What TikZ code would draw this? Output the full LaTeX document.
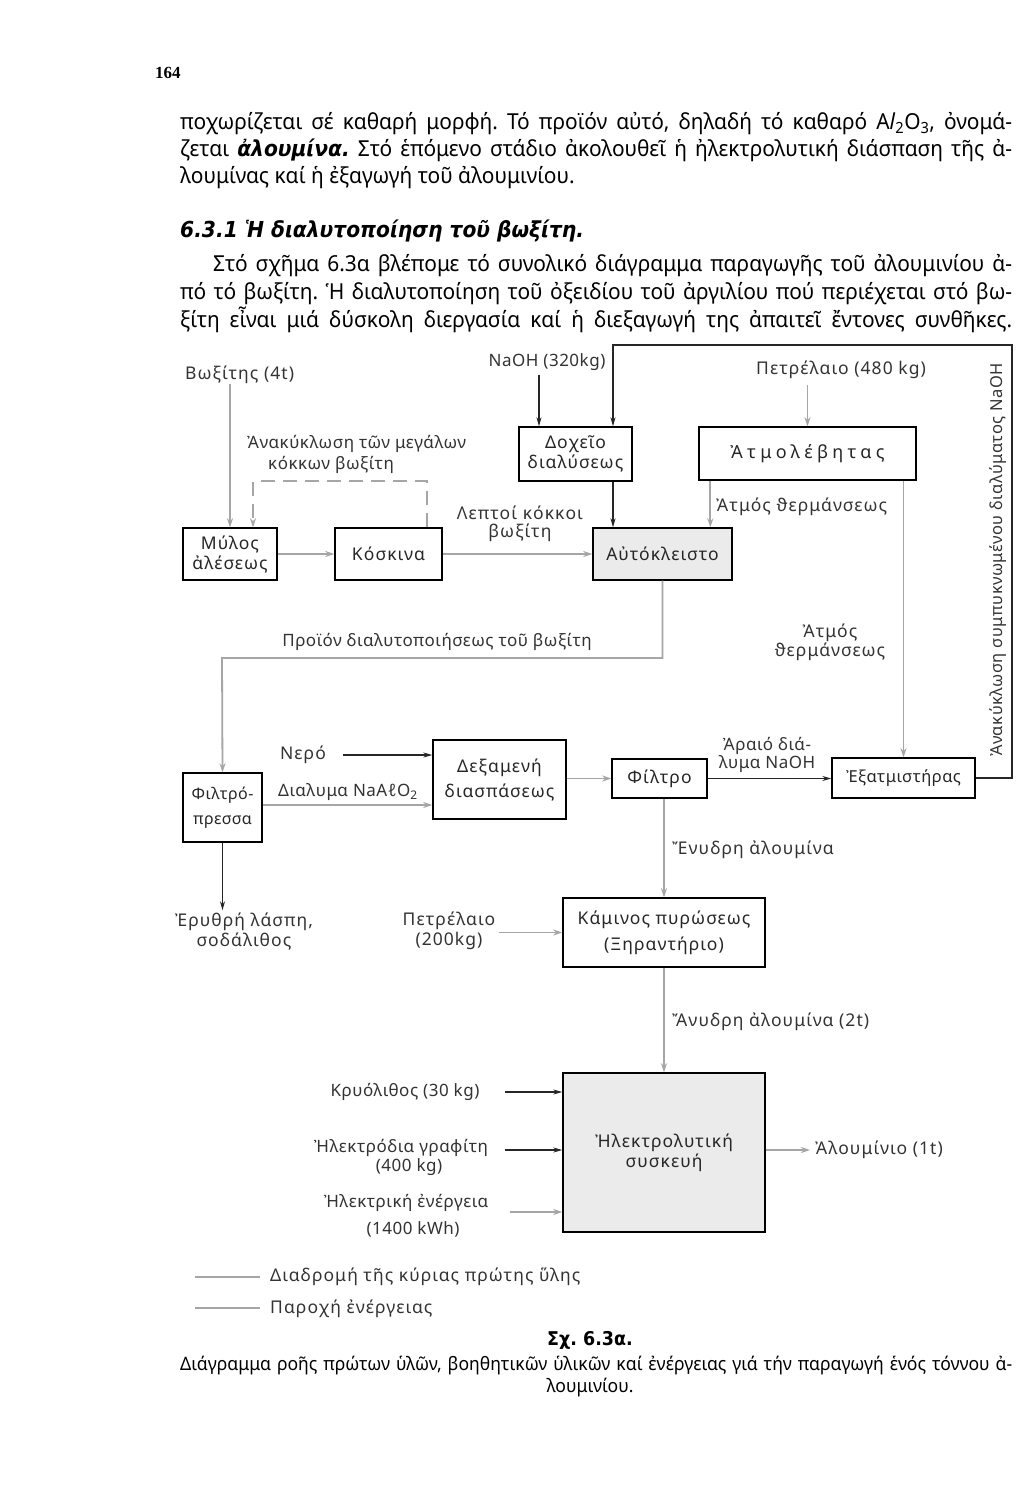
\documentclass[tikz,border=0pt]{standalone}
\usepackage{fontspec}
\setmainfont{Noto Sans}
\newfontfamily\bodyf[FakeStretch=0.95]{Noto Sans}
\newfontfamily\boldf[FakeStretch=0.92]{DejaVu Sans}
\newfontfamily\lblf[LetterSpace=6]{Noto Sans}
\newfontfamily\nlblf[LetterSpace=3]{Noto Sans}
\newfontfamily\widef[LetterSpace=24]{Noto Sans}
\newfontfamily\pgnumf{Liberation Serif}
\usetikzlibrary{arrows.meta,calc}
\frenchspacing
\begin{document}
\begin{tikzpicture}[x=1pt,y=-1pt,
  every node/.style={inner sep=0pt},
  lbl/.style={font=\lblf\fontsize{17.5}{20}\selectfont, text=black!80, align=center},
  nlbl/.style={lbl, font=\nlblf\fontsize{17}{20}\selectfont},
  box/.style={draw=black, line width=1.4pt, lbl, text=black!85},
  graybox/.style={box, fill=black!8},
  main/.style={draw=black!35, line width=1.8pt, -{Stealth[length=9pt,width=6pt]}},
  aux/.style={draw=black!85, line width=1.2pt, -{Stealth[length=9pt,width=5pt]}},
  legline/.style={draw=black!35, line width=1.8pt},
  body/.style={font=\bodyf\fontsize{22}{27}\selectfont, anchor=base west},
  capt/.style={font=\bodyf\fontsize{18.5}{24}\selectfont},
]
\fill[white] (0,0) rectangle (1027,1500);
\useasboundingbox (0,0) rectangle (1027,1500);

% page number and text
\node[anchor=base west, font=\pgnumf\fontsize{17}{20}\selectfont\bfseries] (pg) at (155,78) {164};
\node[body] (p1a) at (180,129) {\makebox[832pt][s]{ποχωρίζεται σέ καθαρή μορφή. Τό προϊόν αὐτό, δηλαδή τό καθαρό A\textit{l}\textsubscript{2}O\textsubscript{3}, ὀνομά-}};
\node[body] (p1b) at (180,156) {\makebox[832pt][s]{ζεται {\boldf\bfseries\itshape ἀλουμίνα.} Στό ἑπόμενο στάδιο ἀκολουθεῖ ἡ ἠλεκτρολυτική διάσπαση τῆς ἀ-}};
\node[body] (p1c) at (180,183) {λουμίνας καί ἡ ἐξαγωγή τοῦ ἀλουμινίου.};
\node[anchor=base west, font=\boldf\fontsize{22}{27}\selectfont\bfseries\itshape] (head) at (180,237) {6.3.1 Ἡ διαλυτοποίηση τοῦ βωξίτη.};
\node[body] (p2a) at (213,271) {\makebox[799pt][s]{Στό σχῆμα 6.3α βλέπομε τό συνολικό διάγραμμα παραγωγῆς τοῦ ἀλουμινίου ἀ-}};
\node[body] (p2b) at (180,299) {\makebox[832pt][s]{πό τό βωξίτη. Ἡ διαλυτοποίηση τοῦ ὀξειδίου τοῦ ἀργιλίου πού περιέχεται στό βω-}};
\node[body] (p2c) at (180,327) {\makebox[832pt][s]{ξίτη εἶναι μιά δύσκολη διεργασία καί ἡ διεξαγωγή της ἀπαιτεῖ ἔντονες συνθῆκες.}};

% diagram labels
\node[lbl, anchor=west] (bx) at (185,375) {Βωξίτης (4t)};
\node[nlbl] (naoh) at (547,362) {NaOH (320kg)};
\node[lbl] (pet) at (841,370) {Πετρέλαιο (480 kg)};
\node[nlbl, align=left, anchor=west, font=\nlblf\fontsize{17}{21}\selectfont] (anak) at (247,454) {Ἀνακύκλωση τῶν μεγάλων\\\hspace*{21pt}κόκκων βωξίτη};
\node[lbl, anchor=west] (steam1) at (716,507) {Ἀτμός ϑερμάνσεως};
\node[lbl, font=\lblf\fontsize{17.5}{18}\selectfont] (lept) at (520,524) {Λεπτοί κόκκοι\\βωξίτη};
\node[nlbl] (prod) at (437,642) {Προϊόν διαλυτοποιήσεως τοῦ βωξίτη};
\node[lbl, font=\lblf\fontsize{17.5}{19}\selectfont] (steam2) at (830,642) {Ἀτμός\\ϑερμάνσεως};
\node[lbl] (nero) at (303,755) {Νερό};
\node[nlbl] (dial) at (348,792) {Διαλυμα NaAℓO\textsubscript{2}};
\node[nlbl, font=\nlblf\fontsize{17}{17}\selectfont] (arai) at (767,755) {Ἀραιό διά-\\λυμα NaOH};
\node[lbl, rotate=90, font=\nlblf\fontsize{16.5}{20}\selectfont] (recl) at (998,560) {Ἀνακύκλωση συμπυκνωμένου διαλύματος NaOH};
\node[lbl, anchor=west] (enyd) at (672,850) {Ἔνυδρη ἀλουμίνα};
\node[lbl] (lasp) at (244,931) {Ἐρυθρή λάσπη,\\σοδάλιθος};
\node[lbl] (p200) at (449,931) {Πετρέλαιο\\(200kg)};
\node[lbl, anchor=west] (anyd) at (672,1022) {Ἄνυδρη ἀλουμίνα (2t)};
\node[nlbl] (kryo) at (405,1092) {Κρυόλιθος (30 kg)};
\node[nlbl] (el) at (401,1148) {Ἠλεκτρόδια γραφίτη};
\node[nlbl] (el2) at (409,1167) {(400 kg)};
\node[nlbl] (en) at (406,1203) {Ἠλεκτρική ἐνέργεια};
\node[nlbl] (en2) at (413,1229) {(1400 kWh)};
\node[lbl, anchor=west] (alu) at (815,1150) {Ἀλουμίνιο (1t)};

% boxes
\node[box, minimum width=94pt, minimum height=52pt] (mylos) at (230,554) {Μύλος\\ἀλέσεως};
\node[box, minimum width=107pt, minimum height=52pt] (kosk) at (388.5,554) {Κόσκινα};
\node[box, minimum width=113pt, minimum height=54pt] (dox) at (575.5,454) {Δοχεῖο\\διαλύσεως};
\node[box, minimum width=217pt, minimum height=53pt, font=\widef\fontsize{18}{20}\selectfont] (atmol) at (807.5,453.5) {Ἀτμολέβητας};
\node[graybox, minimum width=139pt, minimum height=52pt] (auto) at (662.5,554) {Αὐτόκλειστο};
\node[box, minimum width=79pt, minimum height=69pt, font=\nlblf\fontsize{16}{25}\selectfont] (filtrop) at (222.5,807.5) {Φιλτρό-\\πρεσσα};
\node[box, minimum width=133pt, minimum height=79pt, font=\lblf\fontsize{17.5}{25}\selectfont] (dexam) at (499.5,779.5) {Δεξαμενή\\διασπάσεως};
\node[box, minimum width=95pt, minimum height=39pt] (filtro) at (659.5,778.5) {Φίλτρο};
\node[box, minimum width=143pt, minimum height=40pt, font=\nlblf\fontsize{16.5}{20}\selectfont] (exat) at (903.5,778) {Ἐξατμιστήρας};
\node[box, minimum width=202pt, minimum height=69pt, font=\lblf\fontsize{17.5}{26}\selectfont] (kamin) at (664,932.5) {Κάμινος πυρώσεως\\(Ξηραντήριο)};
\node[graybox, minimum width=202pt, minimum height=159pt] (ilek) at (664,1152.5) {Ἠλεκτρολυτική\\συσκευή};

% connectors
\draw[main] (bx.south -| mylos.north) -- (mylos.north);
\draw[main, dash pattern=on 14pt off 8pt] ([xshift=-16pt]kosk.north east) -- ++(0,-46) -| ([xshift=23pt]mylos.north);
\draw[main] (mylos.east) -- (kosk.west);
\draw[main] (kosk.east) -- (auto.west);
\coordinate (dn) at ([xshift=-36.5pt]dox.north);
\draw[aux] ([yshift=-4pt]naoh.south -| dn) -- (dn);
\coordinate (rc) at (1012,345);
\draw[aux] (exat.east) -| (rc) -| ([xshift=37.5pt]dox.north);
\draw[main] ([yshift=-6pt]pet.south -| atmol.north) -- (atmol.north);
\coordinate (dx) at ([xshift=37.5pt]dox.south);
\draw[aux] (dx) -- (dx |- auto.north);
\coordinate (sx) at ([xshift=12pt]atmol.south west);
\draw[main] (sx) -- (sx |- auto.north);
\draw[main] (atmol.south -| exat.north) -- (exat.north);
\coordinate (pr) at (222,658);
\draw[main] (auto.south) |- (pr) -- (filtrop.north);
\draw[aux] ([xshift=17pt]nero.east) -- (nero.east -| dexam.west);
\draw[main] ([yshift=2.5pt]filtrop.east) -- ([yshift=2.5pt]filtrop.east -| dexam.west);
\draw[main] (dexam.east |- filtro.west) -- (filtro.west);
\draw[aux] (filtro.east) -- (filtro.east -| exat.west);
\draw[main] (kamin.north |- filtro.south) -- (kamin.north);
\draw[aux] (filtrop.south) -- ([yshift=2pt]filtrop.south |- lasp.north);
\draw[main] ([xshift=4pt]p200.east |- kamin.west) -- (kamin.west);
\draw[main] (kamin.south) -- (ilek.north);
\coordinate (kra) at (505,1092);
\draw[aux] (kra) -- (kra -| ilek.west);
\coordinate (ela) at (505,1150);
\draw[aux] (ela) -- (ela -| ilek.west);
\coordinate (ena) at (510,1212);
\draw[main] (ena) -- (ena -| ilek.west);
\draw[main] (ilek.east |- alu.west) -- ([xshift=-5pt]alu.west);

% legend
\node[lbl, anchor=west] (lt1) at (270,1277) {Διαδρομή τῆς κύριας πρώτης ὕλης};
\node[lbl, anchor=west] (lt2) at (270,1309) {Παροχή ἐνέργειας};
\coordinate (lg1) at (195,1277);
\coordinate (lg2) at (195,1308);
\draw[legline] (lg1) -- ([xshift=-10pt]lt1.west);
\draw[legline] (lg2) -- ([xshift=-10pt]lt2.west |- lg2);

% caption
\node[font=\boldf\fontsize{19}{24}\selectfont\bfseries] (cap) at (590,1340) {Σχ. 6.3α.};
\node[capt, anchor=base west] (cap1) at (180,1370) {\makebox[832pt][s]{Διάγραμμα ροῆς πρώτων ὑλῶν, βοηθητικῶν ὑλικῶν καί ἐνέργειας γιά τήν παραγωγή ἑνός τόννου ἀ-}};
\node[capt] (cap2) at (590,1388) {λουμινίου.};
\end{tikzpicture}
\end{document}
